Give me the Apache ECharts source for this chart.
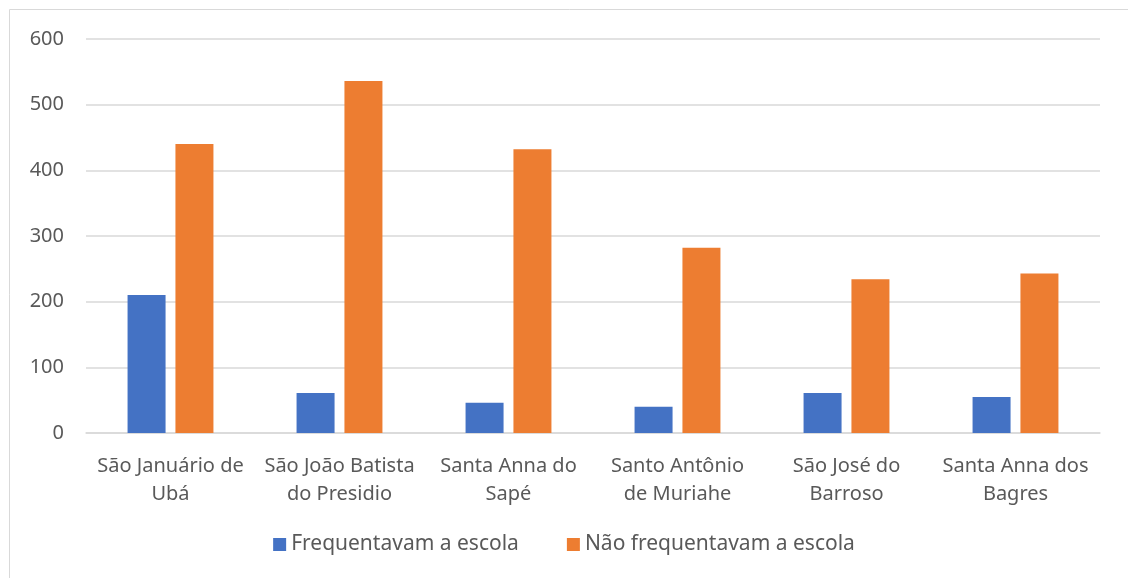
<!DOCTYPE html>
<html>
<head>
<meta charset="utf-8">
<script src="https://cdn.jsdelivr.net/npm/echarts@6/dist/echarts.min.js"></script>
<style>
html, body { margin: 0; padding: 0; background: #fff; }
#chart { width: 1128px; height: 578px; }
</style>
</head>
<body>
<div id="chart"></div>
<script>
// 类目与数据
var categories = ['São Januário de\nUbá', 'São João Batista\ndo Presidio', 'Santa Anna do\nSapé', 'Santo Antônio\nde Muriahe', 'São José do\nBarroso', 'Santa Anna dos\nBagres'];
var frequentavam = [210, 61, 46, 40, 61, 55];
var naoFrequentavam = [440, 536, 432, 282, 234, 243];
var yTicks = [0, 100, 200, 300, 400, 500, 600];

var chart = echarts.init(document.getElementById('chart'));
var font = 'Noto Sans';
var option = {
	color: ['#4472c4', '#ed7d31'],
	animation: false,
	textStyle: { fontFamily: font },
	graphic: [{
		type: 'rect',
		shape: { x: 9.5, y: 9.5, width: 1130, height: 580 },
		style: { fill: 'none', stroke: '#d9d9d9', lineWidth: 1 }
	}],
	grid: { left: 86, right: 28, top: 39, bottom: 145 },
	legend: {
		bottom: 18,
		itemWidth: 13,
		itemHeight: 13,
		itemGap: 48,
		icon: 'rect',
		textStyle: { color: '#595959', fontSize: 21, fontFamily: font },
		data: ['Frequentavam a escola', 'Não frequentavam a escola']
	},
	xAxis: {
		type: 'category',
		data: categories,
		axisLine: { lineStyle: { color: '#d9d9d9', width: 1.5 } },
		axisTick: { show: false },
		axisLabel: { color: '#595959', fontSize: 20, lineHeight: 28, margin: 19, interval: 0 }
	},
	yAxis: {
		type: 'value',
		min: yTicks[0],
		max: yTicks[yTicks.length - 1],
		interval: 100,
		axisLine: { show: false },
		axisTick: { show: false },
		axisLabel: { color: '#595959', fontSize: 20, margin: 22 },
		splitLine: { lineStyle: { color: '#d9d9d9', width: 1.5 } }
	},
	series: [{
		name: 'Frequentavam a escola',
		type: 'bar',
		barWidth: 38,
		barGap: '26%',
		data: frequentavam
	}, {
		name: 'Não frequentavam a escola',
		type: 'bar',
		barWidth: 38,
		data: naoFrequentavam
	}]
};
chart.setOption(option);
</script>
</body>
</html>
